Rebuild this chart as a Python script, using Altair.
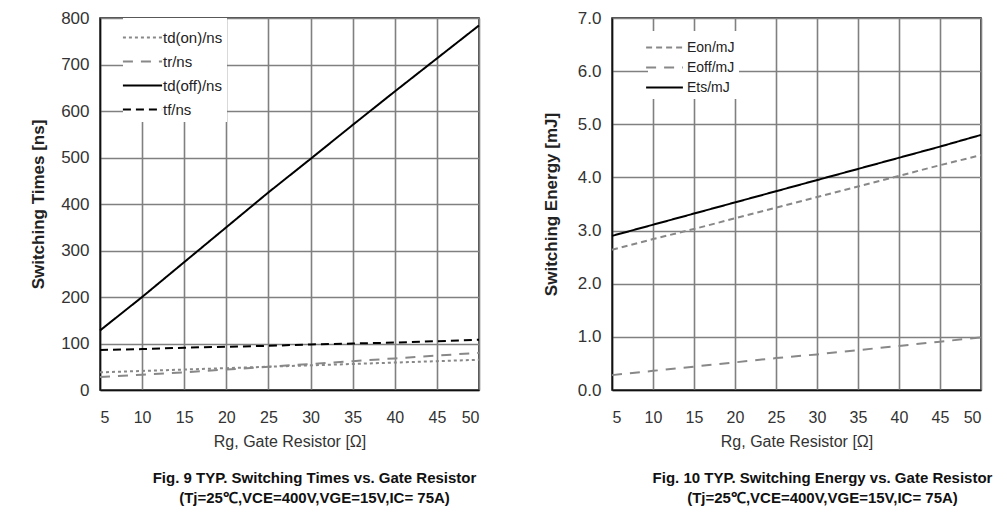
import altair as alt
import pandas as pd

# ---- data ----
rg = [5, 10, 15, 20, 25, 30, 35, 40, 45, 50]

td_on = [38, 41, 44, 47, 50, 53, 56, 59, 62, 65]
tr = [28, 33, 38, 44, 50, 56, 62, 68, 74, 80]
td_off = [128, 200, 275, 350, 425, 497, 570, 642, 713, 784]
tf = [86, 88, 91, 93, 95, 98, 100, 102, 105, 108]

eon = [2.64, 2.84, 3.03, 3.23, 3.43, 3.63, 3.83, 4.03, 4.23, 4.42]
eoff = [0.28, 0.36, 0.44, 0.52, 0.60, 0.67, 0.75, 0.83, 0.91, 0.99]
ets = [2.90, 3.11, 3.32, 3.53, 3.74, 3.95, 4.16, 4.37, 4.58, 4.80]

time_names = ["td(on)/ns", "tr/ns", "td(off)/ns", "tf/ns"]
time_colors = ["#888888", "#888888", "#000000", "#000000"]
time_dashes = [[3, 3], [10, 8], [1, 0], [8, 5]]

energy_names = ["Eon/mJ", "Eoff/mJ", "Ets/mJ"]
energy_colors = ["#888888", "#888888", "#000000"]
energy_dashes = [[6, 4], [10, 8], [1, 0]]

x_ticks = [5, 10, 15, 20, 25, 30, 35, 40, 45, 50]
t_ticks = [0, 100, 200, 300, 400, 500, 600, 700, 800]
e_ticks = [0, 1, 2, 3, 4, 5, 6, 7]

title1 = "Fig. 9 TYP. Switching Times vs. Gate Resistor"
title2 = "Fig. 10 TYP. Switching Energy vs. Gate Resistor"
cond = "(Tj=25℃,VCE=400V,VGE=15V,IC= 75A)"
xtitle = "Rg, Gate Resistor [Ω]"

FONT = "Liberation Sans"


def long_df(series, names):
    rows = []
    for name, vals in zip(names, series):
        for x, v in zip(rg, vals):
            rows.append({"Rg": x, "value": v, "series": name})
    return pd.DataFrame(rows)


def panel(df, names, colors, dashes, ymax, yticks, yfmt, ytitle, title, w, sw,
          ytp, lx, ly, lsize, lpath, loff, lfont, tdx):
    return (
        alt.Chart(df)
        .mark_line()
        .encode(
            x=alt.X(
                "Rg:Q",
                scale=alt.Scale(domain=[5, 50], nice=False, zero=False),
                axis=alt.Axis(
                    values=x_ticks, title=xtitle, labelFontSize=16, titleFontSize=16,
                    labelColor="#333", titleColor="#333", titleFontWeight="normal",
                    labelPadding=19, titlePadding=8, ticks=False,
                    gridColor="#808080", gridWidth=1.6, domainColor="#111", domainWidth=1.5,
                    labelFont=FONT, titleFont=FONT,
                ),
            ),
            y=alt.Y(
                "value:Q",
                scale=alt.Scale(domain=[0, ymax], nice=False),
                axis=alt.Axis(
                    values=yticks, format=yfmt, title=ytitle, labelFontSize=17, titleFontSize=17,
                    labelColor="#333", titleColor="#222", titleFontWeight="bold",
                    labelPadding=11, titlePadding=ytp, ticks=False,
                    gridColor="#808080", gridWidth=1.6, domainColor="#111", domainWidth=1.5,
                    labelFont=FONT, titleFont=FONT,
                ),
            ),
            color=alt.Color(
                "series:N",
                scale=alt.Scale(domain=names, range=colors),
                sort=names,
                legend=alt.Legend(
                    title=None, orient="none", legendX=lx, legendY=ly, symbolType=lpath,
                    symbolSize=lsize, symbolStrokeWidth=3, labelFontSize=lfont, labelFont=FONT,
                    labelColor="#222", labelOffset=loff, fillColor="white", padding=4,
                    rowPadding=0,
                ),
            ),
            strokeDash=alt.StrokeDash(
                "series:N", scale=alt.Scale(domain=names, range=dashes), sort=names, legend=None
            ),
            strokeWidth=alt.StrokeWidth(
                "series:N", scale=alt.Scale(domain=names, range=sw), legend=None
            ),
        )
        .properties(
            width=w,
            height=372,
            title=alt.Title(
                title, subtitle=cond, orient="bottom", anchor="middle", dx=tdx,
                fontSize=15, subtitleFontSize=15, font=FONT, subtitleFont=FONT,
                fontWeight="bold", subtitleFontWeight="bold", color="#111",
                subtitleColor="#111", offset=22, subtitlePadding=5,
            ),
        )
    )


left = panel(long_df([td_on, tr, td_off, tf], time_names), time_names, time_colors,
             time_dashes, 800, t_ticks, "d", "Switching Times [ns]", title1, 379,
             [2, 2, 3, 3], 13, 23, 0, 841, "M-1.35,0H1.35", 5, 15, 25)
right = panel(long_df([eon, eoff, ets], energy_names), energy_names, energy_colors,
              energy_dashes, 7, e_ticks, ".1f", "Switching Energy [mJ]", title2, 369,
              [2, 2, 3], 17, 36, 13, 529, "M-1.6,0H1.6", 10, 14, 26)

chart = (
    alt.hconcat(left, right, spacing=57)
    .resolve_scale(color="independent", strokeDash="independent", strokeWidth="independent")
    .properties(padding={"left": 20, "top": 0, "right": 0, "bottom": 0}, background="white")
    .configure_view(stroke="#111", strokeWidth=1.5)
)

chart.save("out.html", embed_options={"renderer": "svg", "actions": False})
